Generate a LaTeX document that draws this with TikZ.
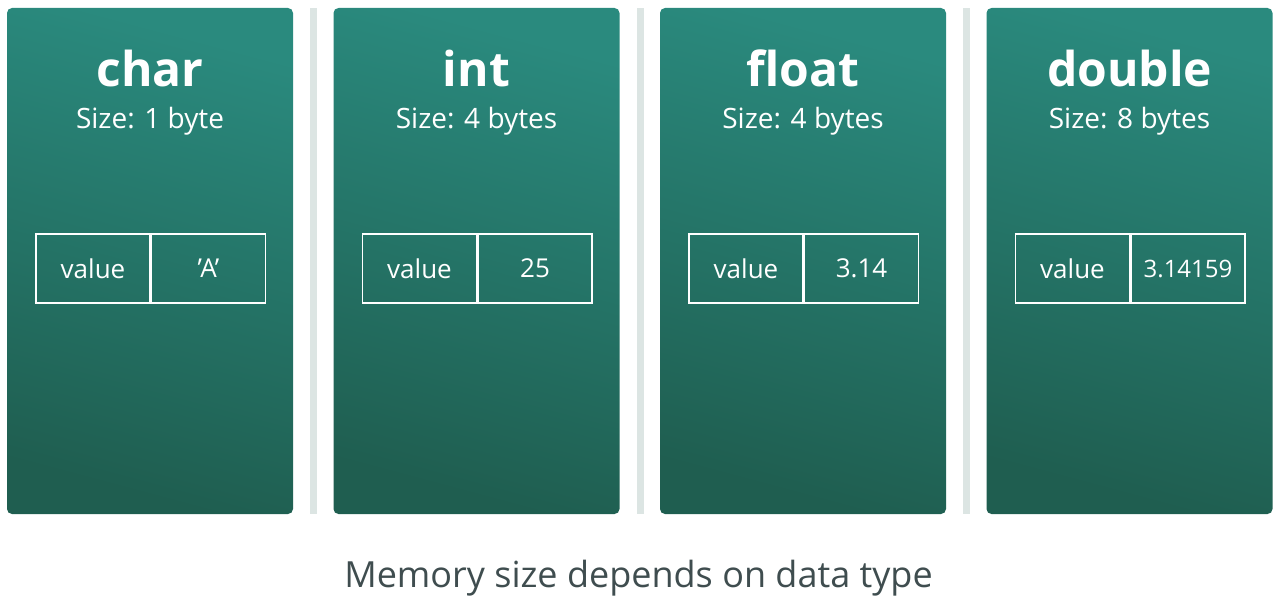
\documentclass[tikz,border=0pt]{standalone}
\usepackage{fontspec}
\setmainfont{Open Sans}
\usetikzlibrary{positioning}
\definecolor{tealtop}{HTML}{2A8A7E}
\definecolor{tealbot}{HTML}{1F5E50}
\definecolor{sepgray}{HTML}{DCE5E3}
\definecolor{capgray}{HTML}{3F4D4F}
\tikzset{
  panel/.style={rounded corners=5pt,shading=axis,top color=tealtop,bottom color=tealbot,shading angle=-15,
    minimum width=286pt,minimum height=506pt,inner sep=0pt},
  cell/.style={draw=white,line width=1.5pt,minimum width=114pt,minimum height=69pt,inner sep=0pt,
    text=white,font=\fontsize{26}{28}\selectfont},
  sep/.style={fill=sepgray,minimum width=7pt,minimum height=506pt,inner sep=0pt}
}
\begin{document}
\begin{tikzpicture}[x=1pt,y=-1pt]
	\useasboundingbox (0,0) rectangle (1277,610);
	
	\foreach \i/\name/\size/\val [count=\k] in {0/char/1 byte/'A',1/int/4 bytes/25,2/float/4 bytes/3.14,3/double/8 bytes/3.14159}{
		\node[panel] (p\k) at (150+326.5*\i,261) {};
		\node[text=white,font=\bfseries\fontsize{48}{50}\selectfont] (t\k) at (150+326.5*\i,68) {\name};
		\node[text=white,font=\fontsize{28}{30}\selectfont] (s\k) at (150+326.5*\i,121) {Size: \size};
		\node[cell] (k\k) at (93+326.5*\i,268.5) {value};
		\node[cell,right=0pt of k\k] (v\k) {\ifnum\k=4\fontsize{24}{26}\selectfont\fi\val};
	}
	\foreach \i in {0,1,2}
		\node[sep] (sep\i) at (313.5+326.5*\i,261) {};
	
	\node[text=capgray,font=\fontsize{36}{38}\selectfont] (cap) at (638.5,578) {Memory size depends on data type};
\end{tikzpicture}
\end{document}
